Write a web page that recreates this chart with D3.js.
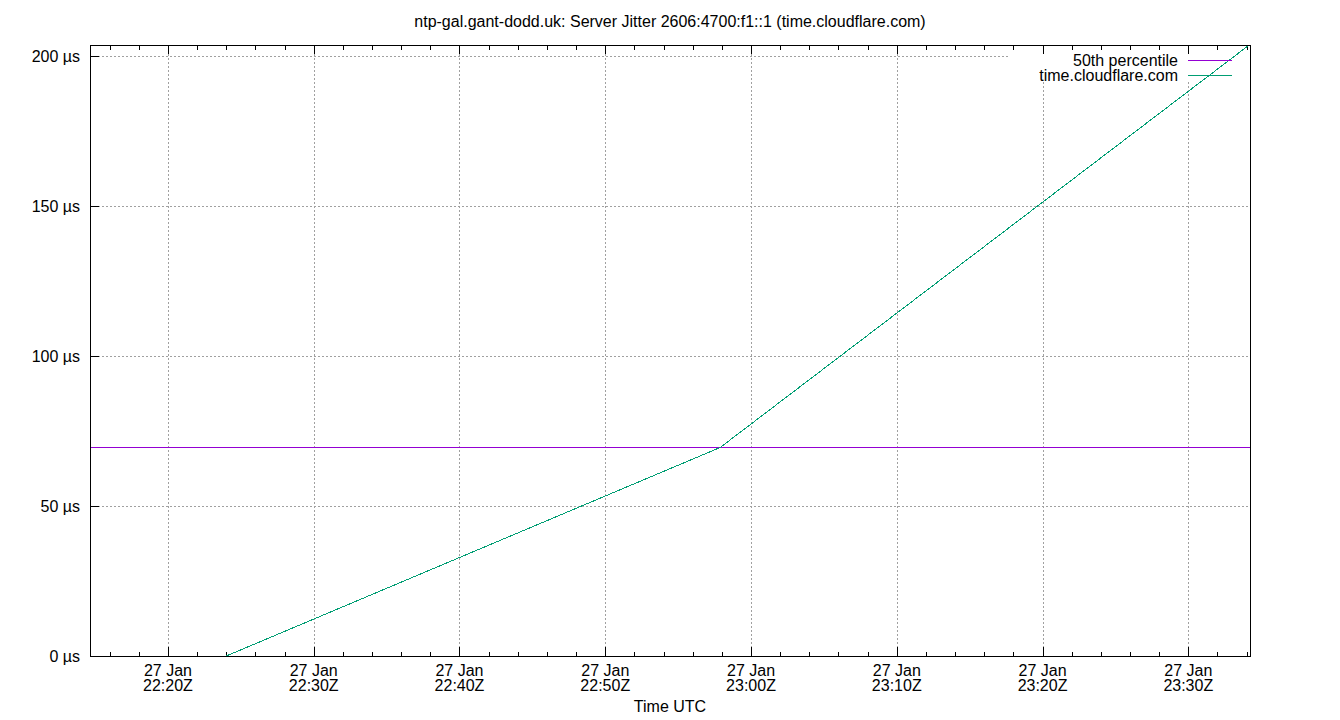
<!DOCTYPE html>
<html>
<head>
<meta charset="utf-8">
<title>Server Jitter</title>
<script src="https://cdn.jsdelivr.net/npm/d3@7"></script>
<style>
  html, body { margin: 0; padding: 0; background: #fff; }
  svg { display: block; font-family: "Liberation Sans", Arial, sans-serif; }
  .tick-label, .axis-label, .legend-label { font-size: 16px; fill: #000; }
  .chart-title { font-size: 16px; fill: #000; }
</style>
</head>
<body>
<div id="chart"></div>
<script>
  "use strict";

  // Chart data (times are UTC).
  const chartTitle = "ntp-gal.gant-dodd.uk: Server Jitter 2606:4700:f1::1 (time.cloudflare.com)";
  const seriesNames = ["50th percentile", "time.cloudflare.com"];
  const seriesColors = ["#9400d3", "#009e73"];
  const timeDomain = ["2024-01-27T22:14:39Z", "2024-01-27T23:34:14Z"];
  const percentileTimes = ["2024-01-27T22:14:39Z", "2024-01-27T23:34:14Z"];
  const percentileValues = [69.7, 69.7];
  const jitterTimes = ["2024-01-27T22:23:55Z", "2024-01-27T22:57:53Z", "2024-01-27T23:34:08Z"];
  const jitterValues = [0, 69.7, 203.6];
  const yTicks = [0, 50, 100, 150, 200];
  const yMax = 203.7;

  const width = 1340;
  const height = 720;
  const margin = { top: 45, right: 90, bottom: 64, left: 90 };

  const svg = d3.select("#chart")
    .append("svg")
    .attr("width", width)
    .attr("height", height)
    .attr("viewBox", "0 0 " + width + " " + height);

  const xScale = d3.scaleUtc()
    .domain(timeDomain.map(function parse(t) { return new Date(t); }))
    .range([margin.left, width - margin.right]);
  const yScale = d3.scaleLinear()
    .domain([0, yMax])
    .range([height - margin.bottom, margin.top]);

  const plotTop = margin.top;
  const plotBottom = height - margin.bottom;
  const plotLeft = margin.left;
  const plotRight = width - margin.right;

  const majorTicks = xScale.ticks(d3.utcMinute.every(10));
  const minorTicks = xScale.ticks(d3.utcMinute.every(2));

  // Grid lines (dashed gray).
  const grid = svg.append("g").attr("stroke", "#a0a0a0").attr("stroke-dasharray", "2,2")
    .attr("shape-rendering", "crispEdges");
  grid.selectAll(".vgrid")
    .data(majorTicks)
    .enter()
    .append("line")
    .attr("x1", function (d) { return Math.round(xScale(d)) + 0.5; })
    .attr("x2", function (d) { return Math.round(xScale(d)) + 0.5; })
    .attr("y1", plotBottom)
    .attr("y2", plotTop);
  grid.selectAll(".hgrid")
    .data(yTicks)
    .enter()
    .append("line")
    .attr("x1", plotLeft)
    .attr("x2", plotRight)
    .attr("y1", function (d) { return Math.round(yScale(d)) + 0.5; })
    .attr("y2", function (d) { return Math.round(yScale(d)) + 0.5; });

  // Opaque legend box hides the grid behind the key.
  const legendBox = { x: 1008, y: plotTop + 1, w: plotRight - 1008 - 1, h: 36 };
  svg.append("rect")
    .attr("x", legendBox.x)
    .attr("y", legendBox.y)
    .attr("width", legendBox.w)
    .attr("height", legendBox.h)
    .attr("fill", "#fff");

  // Axis ticks, pointing inward, with top mirror for the time axis.
  const tickGroup = svg.append("g").attr("stroke", "#000").attr("shape-rendering", "crispEdges");
  function addXTicks(ticks, len) {
    ticks.forEach(function (d) {
      const x = Math.round(xScale(d)) + 0.5;
      tickGroup.append("line").attr("x1", x).attr("x2", x).attr("y1", plotBottom).attr("y2", plotBottom - len);
      tickGroup.append("line").attr("x1", x).attr("x2", x).attr("y1", plotTop).attr("y2", plotTop + len);
    });
  }
  addXTicks(minorTicks, 4.5);
  addXTicks(majorTicks, 9);
  yTicks.forEach(function (d) {
    const y = Math.round(yScale(d)) + 0.5;
    tickGroup.append("line").attr("x1", plotLeft).attr("x2", plotLeft + 9).attr("y1", y).attr("y2", y);
  });

  // Tick labels.
  const dayFormat = d3.utcFormat("%-d %b");
  const timeFormat = d3.utcFormat("%H:%MZ");
  const xLabels = svg.append("g").attr("class", "tick-label").attr("text-anchor", "middle");
  majorTicks.forEach(function (d) {
    const t = xLabels.append("text").attr("x", xScale(d));
    t.append("tspan").attr("x", xScale(d)).attr("y", plotBottom + 20).text(dayFormat(d));
    t.append("tspan").attr("x", xScale(d)).attr("y", plotBottom + 35).text(timeFormat(d));
  });
  svg.append("g").attr("class", "tick-label").attr("text-anchor", "end")
    .selectAll("text")
    .data(yTicks)
    .enter()
    .append("text")
    .attr("x", plotLeft - 10)
    .attr("y", function (d) { return yScale(d) + 5.5; })
    .text(function (d) { return d + " µs"; });

  // Data lines (not antialiased, like the original PNG terminal).
  const line = d3.line()
    .x(function (d) { return xScale(d.t); })
    .y(function (d) { return Math.round(yScale(d.v)) + 0.5; });
  const percentileData = percentileTimes.map(function (t, i) { return { t: new Date(t), v: percentileValues[i] }; });
  const jitterData = jitterTimes.map(function (t, i) { return { t: new Date(t), v: jitterValues[i] }; });

  svg.append("path")
    .datum(percentileData)
    .attr("fill", "none")
    .attr("stroke", seriesColors[0])
    .attr("stroke-width", 1)
    .attr("shape-rendering", "crispEdges")
    .attr("d", line);
  svg.append("path")
    .datum(jitterData)
    .attr("fill", "none")
    .attr("stroke", seriesColors[1])
    .attr("stroke-width", 1)
    .attr("shape-rendering", "crispEdges")
    .attr("d", line);

  // Plot border.
  svg.append("rect")
    .attr("x", plotLeft + 0.5)
    .attr("y", plotTop + 0.5)
    .attr("width", plotRight - plotLeft)
    .attr("height", plotBottom - plotTop)
    .attr("fill", "none")
    .attr("stroke", "#000")
    .attr("shape-rendering", "crispEdges");

  // Legend.
  const legend = svg.append("g");
  seriesNames.forEach(function (name, i) {
    const y = 60 + i * 15;
    legend.append("text")
      .attr("class", "legend-label")
      .attr("x", 1178)
      .attr("y", y + 5.5)
      .attr("text-anchor", "end")
      .text(name);
    legend.append("line")
      .attr("x1", 1188)
      .attr("x2", 1232)
      .attr("y1", y + 0.5)
      .attr("y2", y + 0.5)
      .attr("stroke", seriesColors[i])
      .attr("shape-rendering", "crispEdges");
  });

  // Titles.
  svg.append("text")
    .attr("class", "chart-title")
    .attr("x", width / 2)
    .attr("y", 27)
    .attr("text-anchor", "middle")
    .text(chartTitle);
  svg.append("text")
    .attr("class", "axis-label")
    .attr("x", (plotLeft + plotRight) / 2)
    .attr("y", 712)
    .attr("text-anchor", "middle")
    .text("Time UTC");
</script>
</body>
</html>
